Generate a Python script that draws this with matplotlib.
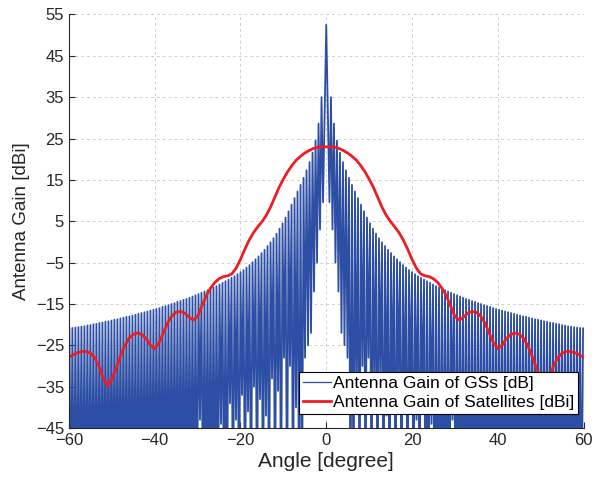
import numpy as np
import matplotlib.pyplot as plt

plt.rcParams['font.family'] = ['Liberation Sans', 'DejaVu Sans']

# Satellite antenna gain [dBi], read every 1 degree from 0 to 60 (pattern is symmetric)
sat_angle = list(range(0, 61))
sat_gain = [23.0, 23.0, 22.9, 22.6, 22.1, 21.5, 20.7, 19.8, 18.5, 17.0,
            15.2, 13.2, 10.8, 8.4, 6.4, 4.9, 3.6, 2.2, 0.4, -1.8,
            -4.2, -6.3, -7.7, -8.2, -8.4, -8.9, -9.8, -11.2, -13.0, -15.5,
            -18.0, -18.9, -18.2, -17.2, -16.8, -17.0, -17.9, -19.6, -22.0, -24.4,
            -25.8, -25.0, -23.4, -22.4, -22.0, -22.3, -23.3, -25.1, -27.6, -30.5,
            -33.3, -34.8, -33.0, -30.0, -28.0, -26.9, -26.5, -26.5, -26.8, -27.3,
            -27.9]

# Ground station antenna: main lobe, then sidelobe peaks and the troughs after each
gs_main_gain = 52.5
gs_first_null = 0.75
lobe_step = 0.7
lobe_peak = [35.0, 28.6, 24.5, 21.6, 19.3, 17.3, 15.5, 13.8, 12.2, 10.6,
             9.0, 7.4, 5.9, 4.5, 3.2, 2.0, 0.9, -0.1, -1.0, -1.9,
             -2.7, -3.5, -4.2, -4.9, -5.6, -6.2, -6.8, -7.3, -7.8, -8.3,
             -8.7, -9.1, -9.5, -9.9, -10.3, -10.7, -11.0, -11.4, -11.7, -12.0,
             -12.3, -12.6, -12.9, -13.2, -13.5, -13.8, -14.0, -14.3, -14.5, -14.8,
             -15.0, -15.3, -15.5, -15.7, -16.0, -16.2, -16.4, -16.6, -16.8, -17.0,
             -17.2, -17.4, -17.6, -17.8, -18.0, -18.1, -18.3, -18.5, -18.7, -18.8,
             -19.0, -19.2, -19.3, -19.5, -19.6, -19.8, -19.9, -20.1, -20.2, -20.4,
             -20.5, -20.6, -20.7, -20.8, -20.9]
# first value is the null between main lobe and first sidelobe
lobe_trough = [9.6, 3.0, -5.0, -12.0, -22.0, -25.0, -28.0, -70, -70, -40,
               -70, -30, -70, -28, -70, -36, -70, -33, -70, -42,
               -70, -38, -70, -35, -70, -41, -70, -37, -70, -43,
               -70, -39, -70, -70, -44, -70, -70, -70, -70, -70,
               -70, -43, -70, -70, -70, -70, -70, -70, -70, -70,
               -70, -70, -70, -70, -70, -70, -70, -70, -70, -70,
               -70, -70, -70, -70, -70, -70, -70, -70, -70, -70,
               -70, -70, -70, -70, -70, -70, -70, -70, -70, -70,
               -70, -70, -70, -70, -70]

xticks = [-60, -40, -20, 0, 20, 40, 60]
yticks = [-45, -35, -25, -15, -5, 5, 15, 25, 35, 45, 55]

# build the one-sided zig-zag (null, peak, null, peak ...) and mirror it
peak_pos = gs_first_null + lobe_step / 2 + lobe_step * np.arange(len(lobe_peak))
null_pos = peak_pos - lobe_step / 2
null_pos[0] = gs_first_null
side_x = np.empty(2 * len(lobe_peak))
side_y = np.empty(2 * len(lobe_peak))
side_x[0::2] = null_pos
side_x[1::2] = peak_pos
side_y[0::2] = lobe_trough
side_y[1::2] = lobe_peak
gs_x = np.concatenate([-side_x[::-1], [0.0], side_x])
gs_y = np.concatenate([side_y[::-1], [gs_main_gain], side_y])

sat_x = np.concatenate([-np.array(sat_angle[:0:-1]), sat_angle])
sat_y = np.concatenate([sat_gain[:0:-1], sat_gain])

fig = plt.figure(figsize=(6.02, 4.86), dpi=100)
ax = fig.add_axes([0.1146, 0.1193, 0.8547, 0.8509])

ax.plot(gs_x, gs_y, color='#2c4ea4', lw=1.3, label='Antenna Gain of GSs [dB]')
ax.plot(sat_x, sat_y, color='#ee1c24', lw=2.0, label='Antenna Gain of Satellites [dBi]')

ax.set_xlim(-60, 60)
ax.set_ylim(-45, 55)
ax.set_xticks(xticks)
ax.set_yticks(yticks)
ax.tick_params(direction='in', labelsize=12, length=4, colors='#262626')
ax.grid(True, linestyle=(0, (3, 3)), color='#d0d0d0', lw=0.7)
ax.set_axisbelow(True)
for s in ['top', 'right']:
    ax.spines[s].set_visible(False)
for s in ['left', 'bottom']:
    ax.spines[s].set_color('#262626')

ax.set_xlabel('Angle [degree]', fontsize=15, color='#262626', labelpad=3)
ax.set_ylabel('Antenna Gain [dBi]', fontsize=13.5, color='#262626', labelpad=4)

leg = ax.legend(loc='lower right', bbox_to_anchor=(0.989, 0.034), borderaxespad=0,
                fontsize=12.5, frameon=True, fancybox=False, framealpha=1,
                edgecolor='black', handlelength=1.6, handletextpad=0.15,
                labelspacing=0.25, borderpad=0.2)
leg.get_frame().set_linewidth(0.8)
leg.get_lines()[0].set_linewidth(0.9)

fig.savefig('out.png', dpi=100)
